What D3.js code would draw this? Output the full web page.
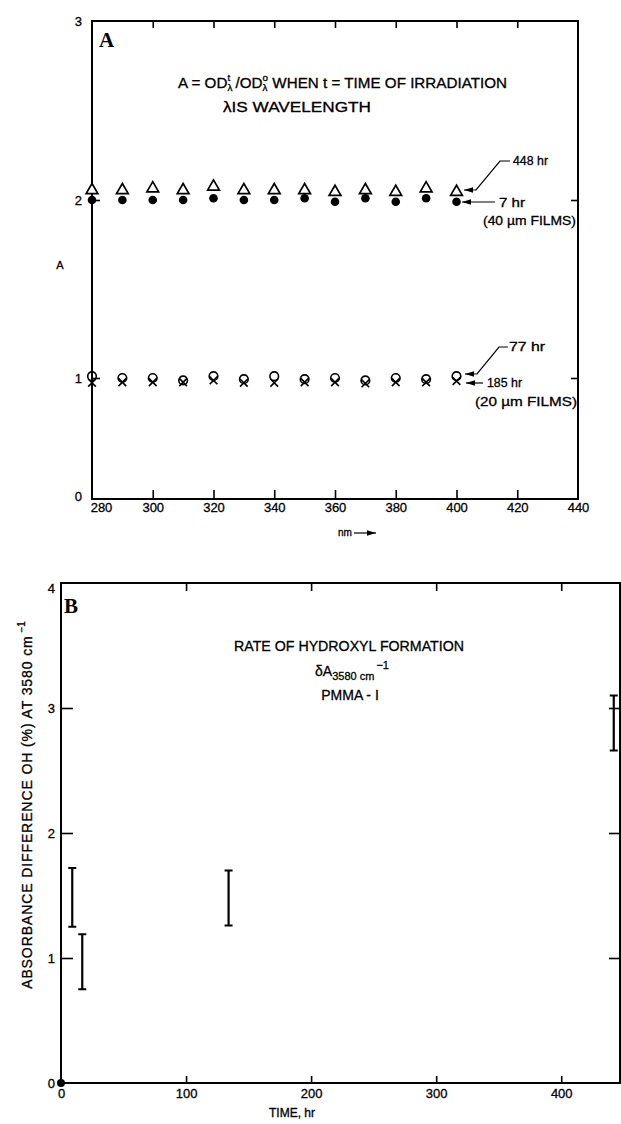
<!DOCTYPE html>
<html>
<head>
<meta charset="utf-8">
<script src="https://cdn.jsdelivr.net/npm/d3@7"></script>
<style>
  body { margin: 0; background: #fff; }
  svg text { font-family: "Liberation Sans", Arial, sans-serif; fill: #000; stroke: #000; stroke-width: 0.3px; }
  svg text.serif { font-family: "Liberation Serif", serif; font-weight: bold; stroke: none; }
</style>
</head>
<body>
<script>
// ---- Panel A: absorbance ratio vs wavelength ----
const wavelengths = [280, 290, 300, 310, 320, 330, 340, 350, 360, 370, 380, 390, 400];
const ratio448h = [2.06, 2.06, 2.07, 2.06, 2.08, 2.06, 2.06, 2.06, 2.05, 2.06, 2.05, 2.07, 2.05];
const ratio7h   = [2.00, 2.00, 2.00, 2.00, 2.01, 2.00, 2.00, 2.01, 1.99, 2.01, 1.99, 2.01, 1.99];
const ratio77h  = [1.01, 1.00, 1.00, 0.98, 1.01, 0.99, 1.01, 0.99, 1.00, 0.98, 1.00, 0.99, 1.01];
const ratio185h = [0.96, 0.965, 0.965, 0.965, 0.98, 0.96, 0.96, 0.965, 0.965, 0.955, 0.965, 0.965, 0.975];
const aTicksX = [280, 300, 320, 340, 360, 380, 400, 420, 440];
const aTicksY = [0, 1, 2, 3];

// ---- Panel B: hydroxyl absorbance difference vs irradiation time ----
const timesHr = [9, 17, 134, 442];
const ohLow  = [1.25, 0.75, 1.26, 2.66];
const ohHigh = [1.72, 1.19, 1.70, 3.10];
const bTicksX = [0, 100, 200, 300, 400];
const bTicksY = [0, 1, 2, 3, 4];

const svg = d3.select("body").append("svg")
  .attr("width", 621).attr("height", 1124);

const defs = svg.append("defs");
defs.append("marker")
  .attr("id", "head").attr("viewBox", "0 0 10 6")
  .attr("refX", 10).attr("refY", 3)
  .attr("markerWidth", 9).attr("markerHeight", 5.5)
  .attr("markerUnits", "userSpaceOnUse")
  .attr("orient", "auto")
  .append("path").attr("d", "M0,0 L10,3 L0,6 Z").attr("fill", "#000");

// Places a run of text pieces side by side; a piece may be a stacked pair (super over sub).
function richText(g, x, y, parts, size) {
  let cx = x;
  parts.forEach(p => {
    if (p.gap) { cx += p.gap; return; }
    if (p.stack) {
      let w = 0;
      p.stack.forEach(s => {
        const t = g.append("text").attr("x", cx).attr("y", y + s.dy)
          .style("font-size", s.size + "px").text(s.text);
        w = Math.max(w, t.node().getComputedTextLength());
      });
      cx += w;
    } else {
      const t = g.append("text").attr("x", cx).attr("y", y + (p.dy || 0))
        .style("font-size", (p.size || size) + "px").text(p.text);
      cx += t.node().getComputedTextLength();
    }
  });
  return cx - x;
}
// Stretches a laid-out run horizontally from its left edge to a given width.
function fitWidth(g, x0, natural, target) {
  const s = target / natural;
  g.attr("transform", `translate(${x0},0) scale(${s},1) translate(${-x0},0)`);
}

function styleAxis(sel, fs) {
  sel.select(".domain").remove();
  sel.selectAll(".tick line").attr("stroke", "#000").attr("stroke-width", 1.6);
  sel.selectAll(".tick text").style("font-size", fs + "px").attr("fill", "#000");
}

// ================= Panel A =================
const ax = d3.scaleLinear().domain([280, 440]).range([92, 578]);
const ay = d3.scaleLinear().domain([0, 1, 2, 3]).range([499, 378, 200, 21]);
const gA = svg.append("g");

gA.append("g").attr("transform", `translate(0,${ay(0)})`)
  .call(d3.axisBottom(ax).tickValues(aTicksX).tickFormat(d3.format("d")).tickSize(-9).tickPadding(4))
  .call(s => styleAxis(s, 13))
  .call(s => s.selectAll(".tick").filter(d => d === 280 || d === 440).select("line").remove())
  .call(s => s.selectAll(".tick").filter(d => d === 280).select("text").attr("dx", 9));
gA.append("g").attr("transform", `translate(0,${ay(3)})`)
  .call(d3.axisTop(ax).tickValues(aTicksX.slice(1, -1)).tickFormat("").tickSize(-7))
  .call(s => styleAxis(s, 13));
gA.append("g").attr("transform", `translate(${ax(280)},0)`)
  .call(d3.axisLeft(ay).tickValues(aTicksY).tickFormat(d3.format("d")).tickSize(-8).tickPadding(10))
  .call(s => styleAxis(s, 13))
  .call(s => s.selectAll(".tick").filter(d => d === 0 || d === 3).select("line").remove())
  .call(s => s.selectAll(".tick").filter(d => d === 0).select("text").attr("dy", "0.1em"));
gA.append("g").attr("transform", `translate(${ax(440)},0)`)
  .call(d3.axisRight(ay).tickValues([1, 2]).tickFormat("").tickSize(-7))
  .call(s => styleAxis(s, 13));

gA.append("rect")
  .attr("x", ax(280)).attr("y", ay(3))
  .attr("width", ax(440) - ax(280)).attr("height", ay(0) - ay(3))
  .attr("fill", "none").attr("stroke", "#000").attr("stroke-width", 2);

// markers
const sym = (type, size) => d3.symbol().type(type).size(size)();
gA.selectAll(".c7").data(wavelengths).join("circle")
  .attr("cx", d => ax(d)).attr("cy", (d, i) => ay(ratio7h[i])).attr("r", 4.3).attr("fill", "#000");
gA.selectAll(".t448").data(wavelengths).join("path")
  .attr("d", sym(d3.symbolTriangle, 60))
  .attr("transform", (d, i) => `translate(${ax(d)},${ay(ratio448h[i]) + 1})`)
  .attr("fill", "#fff").attr("stroke", "#000").attr("stroke-width", 1.7);
gA.selectAll(".x185").data(wavelengths).join("path")
  .attr("d", sym(d3.symbolX, 40))
  .attr("transform", (d, i) => `translate(${ax(d)},${ay(ratio185h[i])})`)
  .attr("fill", "none").attr("stroke", "#000").attr("stroke-width", 1.6);
gA.selectAll(".o77").data(wavelengths).join("circle")
  .attr("cx", d => ax(d)).attr("cy", (d, i) => ay(ratio77h[i])).attr("r", 4.3)
  .attr("fill", "none").attr("stroke", "#000").attr("stroke-width", 1.6);

// panel letter and axis titles
gA.append("text").attr("class", "serif").attr("x", 99).attr("y", 47)
  .style("font-size", "21px").text("A");
gA.append("text").attr("x", 60).attr("y", 269).attr("text-anchor", "middle").style("font-size", "11px").text("A");
gA.append("text").attr("x", 338).attr("y", 536).style("font-size", "10px").text("nm");
gA.append("line").attr("x1", 354).attr("y1", 533).attr("x2", 376).attr("y2", 533)
  .attr("stroke", "#000").attr("stroke-width", 1.2).attr("marker-end", "url(#head)");

// definition text
const defG = gA.append("g");
const defW = richText(defG, 178, 88, [
  { text: "A = OD", size: 14 },
  { stack: [{ text: "t", size: 9, dy: -7 }, { text: "λ", size: 9, dy: 3 }] },
  { gap: 3 },
  { text: "/OD", size: 14 },
  { stack: [{ text: "o", size: 9, dy: -7 }, { text: "λ", size: 9, dy: 3 }] },
  { gap: 4 },
  { text: "WHEN t = TIME OF IRRADIATION", size: 14 }
], 14);
fitWidth(defG, 178, defW, 329);
gA.append("text").attr("x", 223).attr("y", 112).style("font-size", "14px")
  .attr("textLength", 148).attr("lengthAdjust", "spacingAndGlyphs").text("λIS WAVELENGTH");

// leader annotations
const lead = pts => gA.append("path")
  .attr("d", d3.line()(pts)).attr("fill", "none").attr("stroke", "#000").attr("stroke-width", 1.2)
  .attr("marker-end", "url(#head)");
lead([[510, 161], [500, 161], [476, 190], [464, 190]]);
lead([[495, 202], [462, 202]]);
lead([[508, 347], [499, 347], [477, 374], [465, 374]]);
lead([[483, 383], [466, 383]]);
const ann = (x, y, s, w, anchor) => gA.append("text").attr("x", x).attr("y", y)
  .attr("text-anchor", anchor || "start").style("font-size", "12.5px")
  .attr("textLength", w).attr("lengthAdjust", "spacingAndGlyphs").text(s);
ann(513, 165, "448 hr", 35);
ann(499, 207, "7 hr", 26);
ann(483, 225, "(40 µm FILMS)", 93);
ann(509, 351, "77 hr", 36);
ann(487, 387, "185 hr", 35);
ann(475, 406, "(20  µm FILMS)", 102);

// ================= Panel B =================
const bx = d3.scaleLinear().domain([0, 447]).range([61, 620]);
const by = d3.scaleLinear().domain([0, 4]).range([1083, 583]);
const gB = svg.append("g");

gB.append("g").attr("transform", `translate(0,${by(0)})`)
  .call(d3.axisBottom(bx).tickValues(bTicksX).tickFormat(d3.format("d")).tickSize(-7).tickPadding(6))
  .call(s => styleAxis(s, 13))
  .call(s => s.selectAll(".tick").filter(d => d === 0).select("line").remove());
gB.append("g").attr("transform", `translate(0,${by(4)})`)
  .call(d3.axisTop(bx).tickValues(bTicksX.slice(1)).tickFormat("").tickSize(-8))
  .call(s => styleAxis(s, 13));
gB.append("g").attr("transform", `translate(${bx(0)},0)`)
  .call(d3.axisLeft(by).tickValues(bTicksY).tickFormat(d3.format("d")).tickSize(-12).tickPadding(6))
  .call(s => styleAxis(s, 13))
  .call(s => s.selectAll(".tick").filter(d => d === 0 || d === 4).select("line").remove())
  .call(s => s.selectAll(".tick").filter(d => d === 4).select("text").attr("dy", "0.7em"));
gB.append("g").attr("transform", `translate(${bx(447)},0)`)
  .call(d3.axisRight(by).tickValues([1, 2, 3]).tickFormat("").tickSize(-11))
  .call(s => styleAxis(s, 13));

gB.append("rect")
  .attr("x", bx(0)).attr("y", by(4))
  .attr("width", bx(447) - bx(0)).attr("height", by(0) - by(4))
  .attr("fill", "none").attr("stroke", "#000").attr("stroke-width", 2);

// error bars
const bars = gB.selectAll(".eb").data(timesHr).join("g");
bars.append("line")
  .attr("x1", d => bx(d)).attr("x2", d => bx(d))
  .attr("y1", (d, i) => by(ohLow[i])).attr("y2", (d, i) => by(ohHigh[i]))
  .attr("stroke", "#000").attr("stroke-width", 2.2);
[ohLow, ohHigh].forEach(arr => {
  bars.append("line")
    .attr("x1", d => bx(d) - 4).attr("x2", d => bx(d) + 4)
    .attr("y1", (d, i) => by(arr[i])).attr("y2", (d, i) => by(arr[i]))
    .attr("stroke", "#000").attr("stroke-width", 2);
});
gB.append("circle").attr("cx", bx(0)).attr("cy", by(0)).attr("r", 4).attr("fill", "#000");

gB.append("text").attr("class", "serif").attr("x", 64).attr("y", 613)
  .style("font-size", "21px").text("B");

gB.append("text").attr("x", 349).attr("y", 651).attr("text-anchor", "middle")
  .style("font-size", "14px").attr("textLength", 230).attr("lengthAdjust", "spacingAndGlyphs")
  .text("RATE OF HYDROXYL FORMATION");
const dG = gB.append("g");
const dW = richText(dG, 0, 676, [
  { text: "δA", size: 14 },
  { text: "3580 cm", size: 11, dy: 4 },
  { gap: 2 },
  { text: "−1", size: 11, dy: -7 }
], 14);
dG.attr("transform", `translate(${352 - dW / 2},0)`);
gB.append("text").attr("x", 350).attr("y", 700).attr("text-anchor", "middle")
  .style("font-size", "14px").text("PMMA - I");

gB.append("text").attr("x", 292).attr("y", 1117).attr("text-anchor", "middle")
  .style("font-size", "12px").text("TIME, hr");

const yt = gB.append("text").attr("transform", "translate(32,805) rotate(-90)")
  .attr("text-anchor", "middle").style("font-size", "14px");
yt.append("tspan").style("letter-spacing", "0.9px").text("ABSORBANCE DIFFERENCE OH (%) AT 3580 cm");
yt.append("tspan").attr("dy", -7).style("font-size", "10px").text(" −1");
</script>
</body>
</html>
